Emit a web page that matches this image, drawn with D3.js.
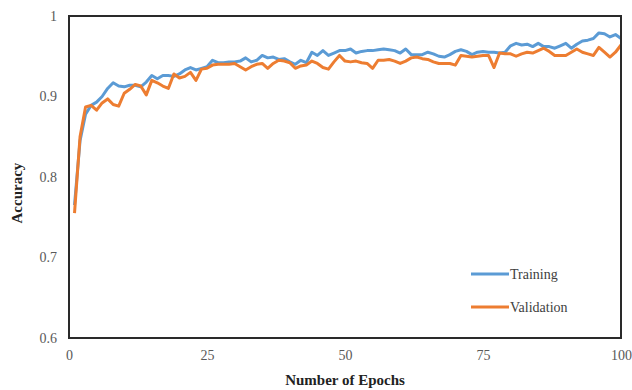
<!DOCTYPE html>
<html>
<head>
<meta charset="utf-8">
<script src="https://cdn.jsdelivr.net/npm/d3@7"></script>
<style>
  html, body { margin: 0; padding: 0; background: #fff; }
  svg { display: block; }
</style>
</head>
<body>
<svg id="chart" width="632" height="390"></svg>
<script>
// Accuracy per epoch for training and validation runs
const epochs = d3.range(1, 101);

const training = [
  0.765, 0.845, 0.878, 0.889, 0.893, 0.900, 0.910, 0.917, 0.913, 0.912,
  0.914, 0.914, 0.912, 0.918, 0.926, 0.922, 0.926, 0.926, 0.925, 0.928,
  0.933, 0.936, 0.933, 0.935, 0.937, 0.945, 0.942, 0.942, 0.943, 0.943,
  0.944, 0.948, 0.943, 0.945, 0.951, 0.948, 0.949, 0.946, 0.947, 0.943,
  0.940, 0.945, 0.942, 0.955, 0.951, 0.957, 0.951, 0.954, 0.957, 0.957,
  0.959, 0.954, 0.956, 0.957, 0.957, 0.958, 0.959, 0.958, 0.957, 0.954,
  0.959, 0.952, 0.952, 0.952, 0.955, 0.953, 0.950, 0.949, 0.952, 0.956,
  0.958, 0.956, 0.952, 0.955, 0.956, 0.955, 0.955, 0.954, 0.955, 0.963,
  0.966, 0.964, 0.965, 0.962, 0.966, 0.962, 0.962, 0.960, 0.963, 0.966,
  0.960, 0.965, 0.969, 0.970, 0.972, 0.979, 0.978, 0.974, 0.977, 0.972
];

const validation = [
  0.755, 0.850, 0.887, 0.889, 0.883, 0.892, 0.897, 0.890, 0.888, 0.904,
  0.909, 0.915, 0.913, 0.902, 0.920, 0.917, 0.913, 0.910, 0.928, 0.923,
  0.925, 0.930, 0.920, 0.934, 0.935, 0.939, 0.940, 0.940, 0.940, 0.941,
  0.937, 0.933, 0.937, 0.940, 0.941, 0.935, 0.941, 0.945, 0.944, 0.942,
  0.935, 0.938, 0.939, 0.944, 0.941, 0.936, 0.934, 0.943, 0.951, 0.944,
  0.943, 0.944, 0.942, 0.941, 0.935, 0.945, 0.945, 0.946, 0.944, 0.941,
  0.944, 0.948, 0.949, 0.947, 0.946, 0.943, 0.941, 0.941, 0.941, 0.939,
  0.951, 0.950, 0.949, 0.950, 0.951, 0.951, 0.936, 0.954, 0.953, 0.953,
  0.950, 0.953, 0.955, 0.954, 0.957, 0.960, 0.956, 0.951, 0.951, 0.951,
  0.955, 0.959, 0.955, 0.953, 0.951, 0.961, 0.955, 0.949, 0.955, 0.964
];

const xTicks = [0, 25, 50, 75, 100];
const yTicks = [0.6, 0.7, 0.8, 0.9, 1];

const seriesNames = ["Training", "Validation"];
const seriesColors = ["#5B9BD5", "#ED7D31"];

const svg = d3.select("#chart");
const margin = { left: 69, top: 16, right: 11, bottom: 52 };
const W = 632, H = 390;
const plotW = W - margin.left - margin.right;
const plotH = H - margin.top - margin.bottom;

const x = d3.scaleLinear().domain([0, 100]).range([margin.left, margin.left + plotW]);
const y = d3.scaleLinear().domain([0.6, 1]).range([margin.top + plotH, margin.top]);

const serif = "'Liberation Serif', 'Times New Roman', serif";

// Plot lines
const line = d3.line()
  .x((d, i) => x(epochs[i]))
  .y(d => y(d))
  .curve(d3.curveLinear);

[training, validation].forEach((vals, k) => {
  svg.append("path")
    .datum(vals)
    .attr("fill", "none")
    .attr("stroke", seriesColors[k])
    .attr("stroke-width", 3)
    .attr("stroke-linejoin", "round")
    .attr("d", line);
});

// Plot frame
svg.append("rect")
  .attr("x", margin.left)
  .attr("y", margin.top)
  .attr("width", plotW)
  .attr("height", plotH)
  .attr("fill", "none")
  .attr("stroke", "#2a2a2a")
  .attr("stroke-width", 2);

// Axes (labels only, frame drawn above)
const xAxis = d3.axisBottom(x).tickValues(xTicks).tickSize(0).tickPadding(12)
  .tickFormat(d3.format("d"));
const gx = svg.append("g")
  .attr("transform", `translate(0,${margin.top + plotH})`)
  .call(xAxis);
gx.select(".domain").remove();
gx.selectAll("text")
  .attr("font-family", serif)
  .attr("font-size", 14)
  .attr("fill", "#595959");

const yAxis = d3.axisLeft(y).tickValues(yTicks).tickSize(0).tickPadding(12)
  .tickFormat(d => d === 1 ? "1" : d3.format(".1f")(d));
const gy = svg.append("g")
  .attr("transform", `translate(${margin.left},0)`)
  .call(yAxis);
gy.select(".domain").remove();
gy.selectAll("text")
  .attr("font-family", serif)
  .attr("font-size", 14)
  .attr("fill", "#595959");

// Axis titles
svg.append("text")
  .attr("x", x(50))
  .attr("y", 385)
  .attr("text-anchor", "middle")
  .attr("font-family", serif)
  .attr("font-weight", "bold")
  .attr("font-size", 15)
  .attr("fill", "#222")
  .text("Number of Epochs");

svg.append("text")
  .attr("transform", `translate(22,${y(0.78)}) rotate(-90)`)
  .attr("text-anchor", "middle")
  .attr("font-family", serif)
  .attr("font-weight", "bold")
  .attr("font-size", 15)
  .attr("fill", "#222")
  .text("Accuracy");

// Legend
const legend = svg.append("g").attr("transform", "translate(471,274)");
seriesNames.forEach((name, k) => {
  const g = legend.append("g").attr("transform", `translate(0,${k * 33})`);
  g.append("line")
    .attr("x1", 0).attr("x2", 38)
    .attr("y1", 0).attr("y2", 0)
    .attr("stroke", seriesColors[k])
    .attr("stroke-width", 3);
  g.append("text")
    .attr("x", 39)
    .attr("y", 5)
    .attr("font-family", serif)
    .attr("font-size", 14)
    .attr("fill", "#404040")
    .text(name);
});
</script>
</body>
</html>
